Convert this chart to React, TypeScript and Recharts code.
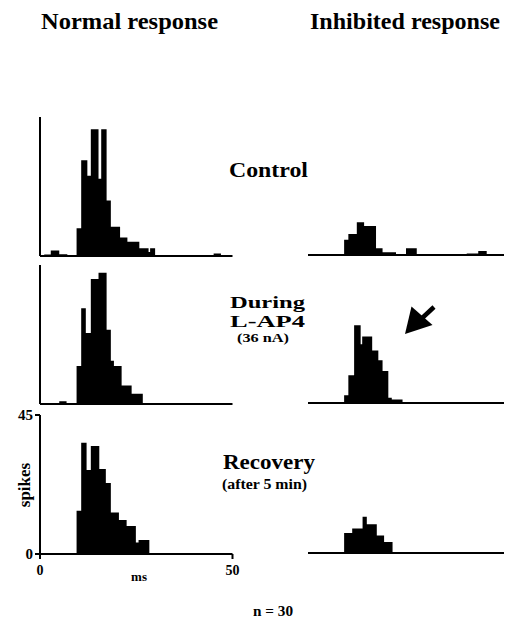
import React from 'react';
import { AreaChart, Area, XAxis, YAxis } from 'recharts';

const FONT = '"Liberation Serif", "Times New Roman", Times, serif';

// Each histogram: bin edges (ms) and the spike count of the bin starting at that edge
const normalControlEdges = [0, 1.1, 2.8, 5.0, 7.1, 9.5, 10.7, 12.3, 13.2, 15.2, 15.9, 17.3, 18.4, 20.8, 22.7, 25.8, 28.2, 28.6, 29.9, 45.1, 47.0, 50];
const normalControlCounts = [0, 0.5, 1.8, 0.6, 0, 9, 31, 26, 41, 25, 41, 18, 9.5, 6, 4.6, 2.5, 1.3, 2.5, 0, 0.8, 0, 0];

const normalDuringEdges = [0, 5.0, 6.9, 9.5, 10.7, 11.9, 13.2, 15.2, 17.3, 18.4, 19.2, 21.2, 23.8, 26.7, 50];
const normalDuringCounts = [0, 0.9, 0, 12.3, 31, 23, 40.5, 42.5, 24, 14, 12.3, 6, 3.3, 0, 0];

const normalRecoveryEdges = [0, 9.5, 10.7, 12.1, 13.2, 15.4, 17.1, 18.4, 20.5, 22.5, 24.9, 25.6, 28.4, 50];
const normalRecoveryCounts = [0, 14, 36, 27.2, 35, 27.5, 23, 13.4, 11, 9.1, 3.7, 4.5, 0, 0];

const inhibControlEdges = [0, 9.4, 10.5, 12.7, 14.6, 17.7, 19.4, 22.9, 25.5, 28.3, 41.3, 44.3, 46.5, 51];
const inhibControlCounts = [0, 4.9, 6.8, 10.6, 9.4, 2.2, 0.9, 0, 2.2, 0, 0.5, 1.3, 0, 0];

const inhibDuringEdges = [0, 9.4, 10.5, 12.0, 13.7, 14.1, 16.7, 18.3, 19.4, 20.9, 21.8, 24.6, 51];
const inhibDuringCounts = [0, 2.5, 9, 25.2, 19, 21.5, 17, 13.8, 10.4, 1.7, 1.1, 0, 0];

const inhibRecoveryEdges = [0, 9.4, 11.5, 14.2, 15.3, 17.9, 19.8, 22.0, 51];
const inhibRecoveryCounts = [0, 6.5, 7.9, 11.7, 9.3, 5.7, 3.6, 0, 0];

const yTicks = [0, 45];
const xTicks = [0, 50];

const toRows = (edges: number[], counts: number[]) =>
  edges.map((t, i) => ({ t, n: counts[i] }));

const axisLine = { stroke: '#000', strokeWidth: 2 };
const tickStyle = { fontFamily: FONT, fontWeight: 700, fontSize: 14, fill: '#000' };

type PanelProps = {
  edges: number[];
  counts: number[];
  left: number;
  top: number;
  side: 'normal' | 'inhib';
  labelled?: boolean;
};

function Panel({ edges, counts, left, top, side, labelled }: PanelProps) {
  const rows = toRows(edges, counts);
  const isNormal = side === 'normal';
  const xMax = edges[edges.length - 1];
  return (
    <div style={{ position: 'absolute', left, top }}>
      <AreaChart
        width={isNormal ? 240 : 196}
        height={179}
        data={rows}
        margin={{ top: 10, right: isNormal ? 7.5 : 0, bottom: 0, left: 0 }}
      >
        <XAxis
          dataKey="t"
          type="number"
          domain={[0, xMax]}
          ticks={labelled ? xTicks : []}
          interval={0}
          height={30}
          axisLine={axisLine}
          tick={labelled ? tickStyle : false}
          tickLine={labelled ? { stroke: '#000', strokeWidth: 2 } : false}
          tickSize={5}
          tickMargin={6}
        />
        <YAxis
          type="number"
          domain={[0, 45]}
          ticks={labelled ? yTicks : []}
          interval={0}
          width={40}
          hide={!isNormal}
          axisLine={axisLine}
          tick={labelled ? { ...tickStyle, fontSize: 15 } : false}
          tickLine={labelled ? { stroke: '#000', strokeWidth: 2 } : false}
          tickSize={5}
          tickMargin={2}
        />
        <Area
          type="stepAfter"
          dataKey="n"
          fill="#000"
          fillOpacity={1}
          stroke="none"
          dot={false}
          activeDot={false}
          isAnimationActive={false}
        />
      </AreaChart>
    </div>
  );
}

const T = (props: any) => (
  <text fontFamily={FONT} fontWeight={700} fill="#000" lengthAdjust="spacingAndGlyphs" {...props} />
);

export default function App() {
  return (
    <div style={{ position: 'absolute', left: 0, top: 0, width: 505, height: 618, background: '#fff', overflow: 'hidden' }}>
      <Panel edges={normalControlEdges} counts={normalControlCounts} left={0} top={107} side="normal" />
      <Panel edges={normalDuringEdges} counts={normalDuringCounts} left={0} top={255} side="normal" />
      <Panel edges={normalRecoveryEdges} counts={normalRecoveryCounts} left={0} top={405} side="normal" labelled />
      <Panel edges={inhibControlEdges} counts={inhibControlCounts} left={308} top={106} side="inhib" />
      <Panel edges={inhibDuringEdges} counts={inhibDuringCounts} left={308} top={254} side="inhib" />
      <Panel edges={inhibRecoveryEdges} counts={inhibRecoveryCounts} left={308} top={404} side="inhib" />

      <svg width={505} height={618} style={{ position: 'absolute', left: 0, top: 0, pointerEvents: 'none' }}>
        <T x={41} y={29} fontSize={23} textLength={177}>Normal response</T>
        <T x={310} y={29} fontSize={23} textLength={190}>Inhibited response</T>

        <T x={229} y={177} fontSize={21} textLength={79}>Control</T>

        <T x={230} y={308} fontSize={17.5} textLength={75}>During</T>
        <T x={230} y={327} fontSize={17.5} textLength={75}>L-AP4</T>
        <T x={237} y={342} fontSize={12.5} textLength={52}>(36 nA)</T>

        <T x={223} y={469} fontSize={21} textLength={92}>Recovery</T>
        <T x={222} y={489} fontSize={15} textLength={85}>(after 5 min)</T>

        <T transform="translate(29.5,485) rotate(-90)" textAnchor="middle" fontSize={17}>spikes</T>
        <T x={139} y={581} textAnchor="middle" fontSize={13}>ms</T>
        <T x={253} y={616} fontSize={14.5} textLength={40}>n = 30</T>

        <line x1={434} y1={307} x2={419} y2={321} stroke="#000" strokeWidth={4.5} />
        <polygon points="405,334 411.5,306.5 432.5,325" fill="#000" />
      </svg>
    </div>
  );
}
